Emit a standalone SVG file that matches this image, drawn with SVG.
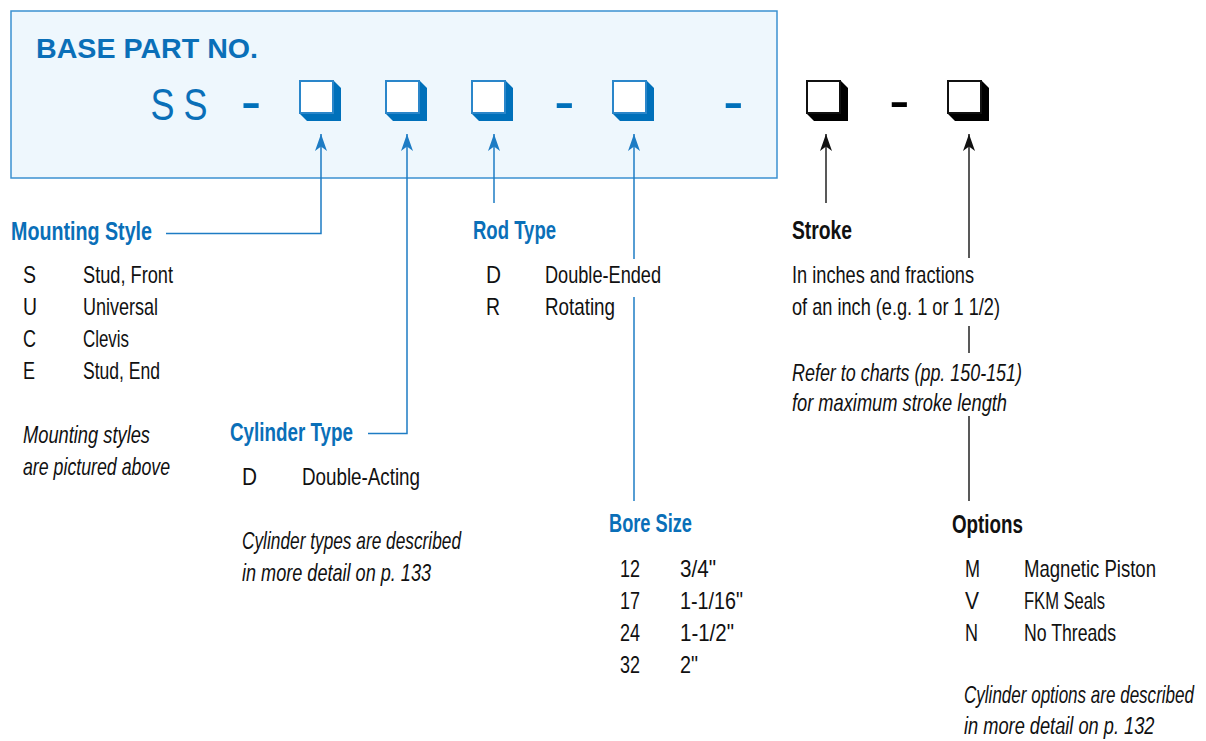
<svg xmlns="http://www.w3.org/2000/svg" width="1206" height="741" viewBox="0 0 1206 741">
<style>
text{font-family:"Liberation Sans",Arial,sans-serif;}
.t{font-size:24px;fill:#111;}
.i{font-size:24px;fill:#111;font-style:italic;}
.hb{font-size:25px;font-weight:bold;fill:#0a6fb8;}
.hk{font-size:25px;font-weight:bold;fill:#111;}
.lb{fill:none;stroke:#1e7cc4;stroke-width:1.5;}
.lk{fill:none;stroke:#222;stroke-width:1.5;}
.dash{font-size:62px;}
</style>
<defs>
<marker id="ab" markerUnits="userSpaceOnUse" markerWidth="20" markerHeight="14" viewBox="0 -7 18 14" refX="17" refY="0" orient="auto"><path d="M17,0 L0,-6 L4.5,0 L0,6 Z" fill="#1e7cc4"/></marker>
<marker id="ak" markerUnits="userSpaceOnUse" markerWidth="20" markerHeight="14" viewBox="0 -7 18 14" refX="17" refY="0" orient="auto"><path d="M17,0 L0,-6 L4.5,0 L0,6 Z" fill="#111"/></marker>
<g id="bxb"><polygon points="34,0 42,8 42,41 8,41 0,33 34,33" fill="#0070ba"/><rect x="1" y="1" width="33" height="32" fill="#fff" stroke="#2a86ca" stroke-width="2"/></g>
<g id="bxk"><polygon points="34,0 42,8 42,41 8,41 0,33 34,33" fill="#000"/><rect x="1" y="1" width="33" height="32" fill="#fff" stroke="#111" stroke-width="2"/></g>
</defs>
<rect width="1206" height="741" fill="#fff"/>

<g id="header">
<rect x="11" y="11" width="766" height="167" fill="#eef7fd" stroke="#3b91d1" stroke-width="1.5"/>
<text x="36" y="58" font-size="28" font-weight="bold" fill="#0a6fb8" textLength="222" lengthAdjust="spacingAndGlyphs">BASE PART NO.</text>
<text x="150.5" y="120" font-size="44" fill="#0a6fb8" textLength="24" lengthAdjust="spacingAndGlyphs">S</text>
<text x="183.5" y="120" font-size="44" fill="#0a6fb8" textLength="24" lengthAdjust="spacingAndGlyphs">S</text>
<text class="dash" x="240.7" y="121.5" fill="#0070ba">-</text>
<text class="dash" x="553.9" y="121.5" fill="#0070ba">-</text>
<text class="dash" x="722.9" y="121.5" fill="#0070ba">-</text>
<text class="dash" x="888.9" y="121.3" fill="#000">-</text>
<use href="#bxb" x="299" y="80"/>
<use href="#bxb" x="385" y="80"/>
<use href="#bxb" x="471" y="80"/>
<use href="#bxb" x="612" y="80"/>
<use href="#bxk" x="806" y="80"/>
<use href="#bxk" x="947" y="80"/>
</g>

<g id="connectors">
<path class="lb" d="M166,233.5 H321 V134" marker-end="url(#ab)"/>
<path class="lb" d="M368,433.5 H407 V134" marker-end="url(#ab)"/>
<path class="lb" d="M494,203 V134" marker-end="url(#ab)"/>
<path class="lb" d="M634,259 V134" marker-end="url(#ab)"/>
<path class="lb" d="M634,297 V501"/>
<path class="lk" d="M826,203 V134" marker-end="url(#ak)"/>
<path class="lk" d="M969,258 V134" marker-end="url(#ak)"/>
<path class="lk" d="M969,326 V353"/>
<path class="lk" d="M969,416 V501"/>
</g>

<g id="mounting-style">
<text class="hb" x="11" y="240" textLength="141" lengthAdjust="spacingAndGlyphs">Mounting Style</text>
<text class="t" x="23" y="283" textLength="13" lengthAdjust="spacingAndGlyphs">S</text>
<text class="t" x="83" y="283" textLength="90" lengthAdjust="spacingAndGlyphs">Stud, Front</text>
<text class="t" x="23" y="315" textLength="14" lengthAdjust="spacingAndGlyphs">U</text>
<text class="t" x="83" y="315" textLength="75" lengthAdjust="spacingAndGlyphs">Universal</text>
<text class="t" x="23" y="347" textLength="13" lengthAdjust="spacingAndGlyphs">C</text>
<text class="t" x="83" y="347" textLength="46" lengthAdjust="spacingAndGlyphs">Clevis</text>
<text class="t" x="23" y="379" textLength="12" lengthAdjust="spacingAndGlyphs">E</text>
<text class="t" x="83" y="379" textLength="77" lengthAdjust="spacingAndGlyphs">Stud, End</text>
<text class="i" x="23" y="443" textLength="127" lengthAdjust="spacingAndGlyphs">Mounting styles</text>
<text class="i" x="23" y="475" textLength="147" lengthAdjust="spacingAndGlyphs">are pictured above</text>
</g>

<g id="cylinder-type">
<text class="hb" x="230" y="441" textLength="123" lengthAdjust="spacingAndGlyphs">Cylinder Type</text>
<text class="t" x="242" y="485" textLength="15" lengthAdjust="spacingAndGlyphs">D</text>
<text class="t" x="302" y="485" textLength="118" lengthAdjust="spacingAndGlyphs">Double-Acting</text>
<text class="i" x="242" y="549" textLength="219" lengthAdjust="spacingAndGlyphs">Cylinder types are described</text>
<text class="i" x="242" y="581" textLength="189" lengthAdjust="spacingAndGlyphs">in more detail on p. 133</text>
</g>

<g id="rod-type">
<text class="hb" x="473" y="239" textLength="83" lengthAdjust="spacingAndGlyphs">Rod Type</text>
<text class="t" x="486" y="283" textLength="15" lengthAdjust="spacingAndGlyphs">D</text>
<text class="t" x="545" y="283" textLength="116" lengthAdjust="spacingAndGlyphs">Double-Ended</text>
<text class="t" x="486" y="315" textLength="14" lengthAdjust="spacingAndGlyphs">R</text>
<text class="t" x="545" y="315" textLength="70" lengthAdjust="spacingAndGlyphs">Rotating</text>
</g>

<g id="bore-size">
<text class="hb" x="609" y="532" textLength="83" lengthAdjust="spacingAndGlyphs">Bore Size</text>
<text class="t" x="620" y="577" textLength="20" lengthAdjust="spacingAndGlyphs">12</text>
<text class="t" x="680" y="577" textLength="36" lengthAdjust="spacingAndGlyphs">3/4"</text>
<text class="t" x="620" y="609" textLength="20" lengthAdjust="spacingAndGlyphs">17</text>
<text class="t" x="680" y="609" textLength="63" lengthAdjust="spacingAndGlyphs">1-1/16"</text>
<text class="t" x="620" y="641" textLength="20" lengthAdjust="spacingAndGlyphs">24</text>
<text class="t" x="680" y="641" textLength="54" lengthAdjust="spacingAndGlyphs">1-1/2"</text>
<text class="t" x="620" y="673" textLength="20" lengthAdjust="spacingAndGlyphs">32</text>
<text class="t" x="680" y="673" textLength="18" lengthAdjust="spacingAndGlyphs">2"</text>
</g>

<g id="stroke">
<text class="hk" x="792" y="239" textLength="60" lengthAdjust="spacingAndGlyphs">Stroke</text>
<text class="t" x="792" y="283" textLength="182" lengthAdjust="spacingAndGlyphs">In inches and fractions</text>
<text class="t" x="792" y="315" textLength="208" lengthAdjust="spacingAndGlyphs">of an inch (e.g. 1 or 1 1/2)</text>
<text class="i" x="792" y="381" textLength="230" lengthAdjust="spacingAndGlyphs">Refer to charts (pp. 150-151)</text>
<text class="i" x="792" y="411" textLength="215" lengthAdjust="spacingAndGlyphs">for maximum stroke length</text>
</g>

<g id="options">
<text class="hk" x="952" y="533" textLength="71" lengthAdjust="spacingAndGlyphs">Options</text>
<text class="t" x="965" y="577" textLength="15" lengthAdjust="spacingAndGlyphs">M</text>
<text class="t" x="1024" y="577" textLength="132" lengthAdjust="spacingAndGlyphs">Magnetic Piston</text>
<text class="t" x="965" y="609" textLength="14" lengthAdjust="spacingAndGlyphs">V</text>
<text class="t" x="1024" y="609" textLength="81" lengthAdjust="spacingAndGlyphs">FKM Seals</text>
<text class="t" x="965" y="641" textLength="13" lengthAdjust="spacingAndGlyphs">N</text>
<text class="t" x="1024" y="641" textLength="92" lengthAdjust="spacingAndGlyphs">No Threads</text>
<text class="i" transform="translate(964 703) scale(0.71 1)" font-size="23">Cylinder options are described</text>
<text class="i" transform="translate(964 734) scale(0.76 1)" font-size="23">in more detail on p. 132</text>
</g>
</svg>
